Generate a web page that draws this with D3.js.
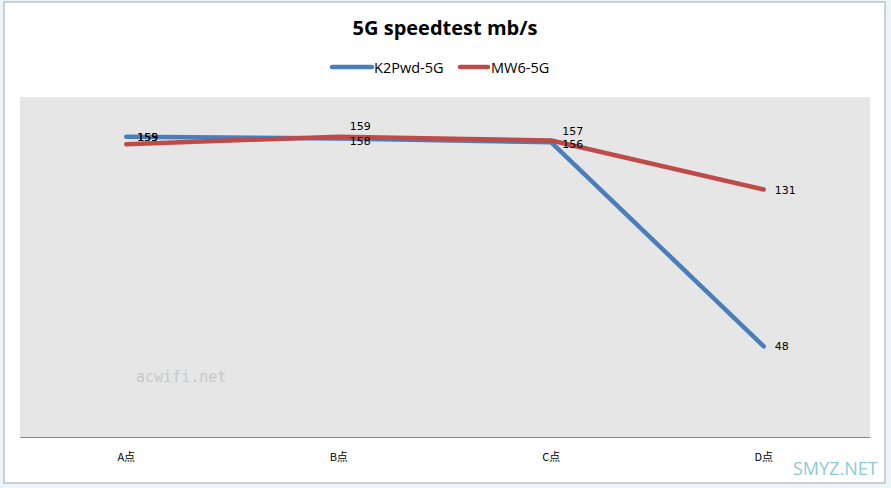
<!DOCTYPE html>
<html><head><meta charset="utf-8">
<script src="https://cdn.jsdelivr.net/npm/d3@7/dist/d3.min.js"></script>
<style>body{margin:0;background:#fff;}svg{display:block;}</style>
</head><body>
<svg id="c" width="891" height="488"></svg>
<script>
const categories = ["A点","B点","C点","D点"];
const k2pwd = [159,158,156,48];
const mw6 = [155,159,157,131];
const seriesNames = ["K2Pwd-5G","MW6-5G"];
const title = "5G speedtest mb/s";

const W=891,H=488;
const svg=d3.select("#c");
svg.append("rect").attr("x",0).attr("y",0).attr("width",W).attr("height",H).attr("fill","#eaf6fb");
svg.append("rect").attr("x",4).attr("y",2).attr("width",881).attr("height",481).attr("fill","#fff").attr("stroke","#a6a6a6").attr("stroke-width",1);

const plot={l:20,r:870,t:97,b:437};
svg.append("rect").attr("x",plot.l).attr("y",plot.t).attr("width",plot.r-plot.l).attr("height",plot.b-plot.t).attr("fill","#e6e6e6");

const x=d3.scaleBand().domain(categories).range([plot.l,plot.r]);
const y=d3.scaleLinear().domain([0,180]).range([plot.b,plot.t]);

const xAxis=svg.append("g").attr("transform",`translate(0,${plot.b})`).call(d3.axisBottom(x).tickSize(0).tickPadding(16));
xAxis.select(".domain").attr("stroke","#868686");
xAxis.selectAll("text").attr("font-family","'Noto Sans CJK SC','Liberation Sans',sans-serif").attr("font-size",11).attr("fill","#000");

const cx=d=>x(d)+x.bandwidth()/2;
const series=[{name:seriesNames[0],vals:k2pwd,color:"#4a7ebb"},{name:seriesNames[1],vals:mw6,color:"#be4b48"}];
const line=d3.line().x((d,i)=>cx(categories[i])).y(d=>y(d));
series.forEach(s=>{
  svg.append("path").datum(s.vals).attr("d",line).attr("fill","none").attr("stroke",s.color).attr("stroke-width",4.5).attr("stroke-linejoin","round").attr("stroke-linecap","round");
});
const nudge=[[0,2,2,0],[-7,-11,-9,0]];
series.forEach((s,si)=>{
  svg.append("g").selectAll("text").data(s.vals).join("text")
    .attr("x",(d,i)=>cx(categories[i])+11)
    .attr("y",(d,i)=>y(d)+nudge[si][i]+4)
    .attr("font-family","'DejaVu Sans','Liberation Sans',sans-serif").attr("font-size",11).attr("fill","#000")
    .text(d=>d);
});

svg.append("text").attr("x",445).attr("y",35).attr("text-anchor","middle").attr("font-family","'Open Sans','Liberation Sans',sans-serif").attr("font-weight","bold").attr("font-size",20).attr("fill","#000").text(title);

const lg=[{x:332,tx:374},{x:460,tx:491}];
series.forEach((s,i)=>{
  svg.append("line").attr("x1",lg[i].x).attr("x2",lg[i].x+(i==0?40:28)).attr("y1",67).attr("y2",67).attr("stroke",s.color).attr("stroke-width",4.5).attr("stroke-linecap","round");
  svg.append("text").attr("x",lg[i].tx).attr("y",73).attr("font-family","'Open Sans','Liberation Sans',sans-serif").attr("font-size",14.5).attr("fill","#000").text(s.name);
});

svg.append("text").attr("x",136).attr("y",382).attr("font-family","'DejaVu Sans Mono','Liberation Mono',monospace").attr("font-size",15).attr("fill","#c8c8c8").text("acwifi.net");
svg.append("text").attr("x",793).attr("y",475).attr("font-family","'Open Sans','Liberation Sans',sans-serif").attr("font-size",18).attr("fill","#8ccbd3").text("SMYZ.NET");
</script>
</body></html>
